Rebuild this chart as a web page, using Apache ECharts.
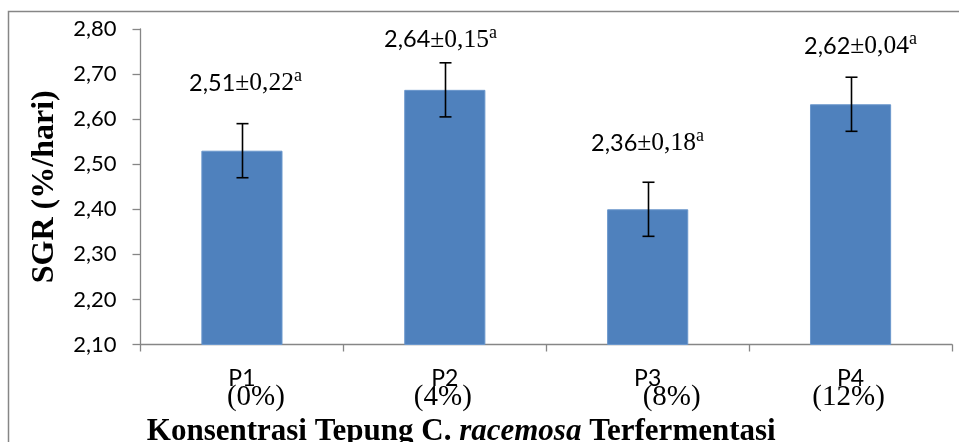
<!DOCTYPE html>
<html>
<head>
<meta charset="utf-8">
<script src="https://cdn.jsdelivr.net/npm/echarts@6/dist/echarts.min.js"></script>
<style>html,body{margin:0;padding:0;background:#fff;}#c{width:959px;height:442px;}</style>
</head>
<body>
<div id="c"></div>
<script>
// ---- data ----
const categories = ['P1', 'P2', 'P3', 'P4'];
const concentrations = ['(0%)', '(4%)', '(8%)', '(12%)'];
const sgrMeans = [2.53, 2.665, 2.40, 2.633];
const sgrErrors = [0.06, 0.06, 0.06, 0.06];
const labelMean = ['2,51', '2,64', '2,36', '2,62'];
const labelSD = ['0,22', '0,15', '0,18', '0,04'];
const labelLetter = ['a', 'a', 'a', 'a'];
const yTicks = { min: 2.1, max: 2.8, interval: 0.1 };

// ---- styling offsets (px) ----
const labelDx = [3, -5, -1, 9];
const labelDy = [-40, -23, -39, -31];
const pctShift = [14, -2, 24, -2];

const SANS = 'Lato';
const SERIF = 'Liberation Serif';
const FONT_M = '23.5px ' + SANS;
const FONT_S = '25.5px "' + SERIF + '"';
const FONT_U = '18px "' + SERIF + '"';

const measureCtx = document.createElement('canvas').getContext('2d');
function textW(t, font) { measureCtx.font = font; return measureCtx.measureText(t).width; }

const chart = echarts.init(document.getElementById('c'), null, { renderer: 'canvas' });

const xRich = { p: { fontFamily: SANS, fontSize: 23, lineHeight: 17, color: '#000' } };
pctShift.forEach((s, i) => {
  xRich['q' + i] = {
    fontFamily: SERIF, fontSize: 29, lineHeight: 20, color: '#000',
    padding: s >= 0 ? [0, 0, 0, 2 * s] : [0, -2 * s, 0, 0]
  };
});

const errData = categories.map((c, i) => [i, sgrMeans[i] - sgrErrors[i], sgrMeans[i] + sgrErrors[i]]);

chart.setOption({
  animation: false,
  backgroundColor: '#fff',
  graphic: [{
    type: 'rect', silent: true, z: -1,
    shape: { x: 8.5, y: 11.5, width: 1200, height: 1000 },
    style: { fill: 'none', stroke: '#868686', lineWidth: 1.5 }
  }],
  grid: { left: 140.5, right: 7, top: 29, bottom: 97.5, outerBoundsMode: 'none', containLabel: false },
  xAxis: {
    type: 'category',
    data: categories,
    boundaryGap: true,
    axisLine: { lineStyle: { color: '#868686', width: 1.3 } },
    axisTick: { show: true, alignWithLabel: false, length: 7, lineStyle: { color: '#868686', width: 1.3 } },
    axisLabel: {
      margin: 26,
      interval: 0,
      formatter: (v, i) => '{p|' + v + '}\n{q' + i + '|' + concentrations[i] + '}',
      rich: xRich
    },
    name: '{b|Konsentrasi Tepung C. }{i|racemosa}{b| Terfermentasi}',
    nameLocation: 'middle',
    nameGap: 69,
    nameTextStyle: {
      padding: [0, 170, 0, 0],
      rich: {
        b: { fontFamily: SERIF, fontWeight: 'bold', fontSize: 31, color: '#000' },
        i: { fontFamily: SERIF, fontWeight: 'bold', fontStyle: 'italic', fontSize: 31, color: '#000' }
      }
    }
  },
  yAxis: {
    type: 'value',
    min: yTicks.min, max: yTicks.max, interval: yTicks.interval,
    axisLine: { show: true, lineStyle: { color: '#868686', width: 1.3 } },
    axisTick: { show: true, length: 8, lineStyle: { color: '#868686', width: 1.3 } },
    splitLine: { show: false },
    axisLabel: {
      margin: 24,
      fontFamily: SANS, fontSize: 22, color: '#000',
      formatter: v => v.toFixed(2).replace('.', ',')
    },
    name: 'SGR (%/hari)',
    nameLocation: 'middle',
    nameGap: 80,
    nameTextStyle: { fontFamily: SERIF, fontWeight: 'bold', fontSize: 32, color: '#000' }
  },
  series: [
    {
      type: 'bar',
      data: sgrMeans,
      barWidth: '40%',
      itemStyle: { color: '#4f81bd', borderColor: '#6b97cc', borderWidth: 1 }
    },
    {
      type: 'custom',
      data: errData,
      z: 5,
      renderItem: (params, api) => {
        const idx = params.dataIndex;
        const lo = api.coord([api.value(0), api.value(1)]);
        const hi = api.coord([api.value(0), api.value(2)]);
        const x = Math.round(lo[0]) + 0.5;
        const cap = 6;
        const ls = { stroke: '#000', lineWidth: 1.6 };
        const tm = labelMean[idx], ts = '±' + labelSD[idx], tu = labelLetter[idx];
        const wm = textW(tm, FONT_M), ws = textW(ts, FONT_S), wu = textW(tu, FONT_U);
        const cx = x + labelDx[idx], cy = hi[1] + labelDy[idx];
        const left = cx - (wm + ws + wu) / 2;
        return {
          type: 'group',
          children: [
            { type: 'line', shape: { x1: x, y1: lo[1], x2: x, y2: hi[1] }, style: ls },
            { type: 'line', shape: { x1: x - cap, y1: lo[1], x2: x + cap, y2: lo[1] }, style: ls },
            { type: 'line', shape: { x1: x - cap, y1: hi[1], x2: x + cap, y2: hi[1] }, style: ls },
            {
              type: 'text', x: left, y: cy,
              style: {
                text: '{m|' + tm + '}{s|' + ts + '}',
                align: 'left', verticalAlign: 'middle',
                rich: {
                  m: { fontFamily: SANS, fontSize: 23.5, lineHeight: 26, fill: '#000' },
                  s: { fontFamily: SERIF, fontSize: 25.5, lineHeight: 26, fill: '#000' }
                }
              }
            },
            {
              type: 'text', x: left + wm + ws, y: cy - 7,
              style: {
                text: tu, font: FONT_U, fill: '#000',
                align: 'left', verticalAlign: 'middle'
              }
            }
          ]
        };
      }
    }
  ]
});
</script>
</body>
</html>
